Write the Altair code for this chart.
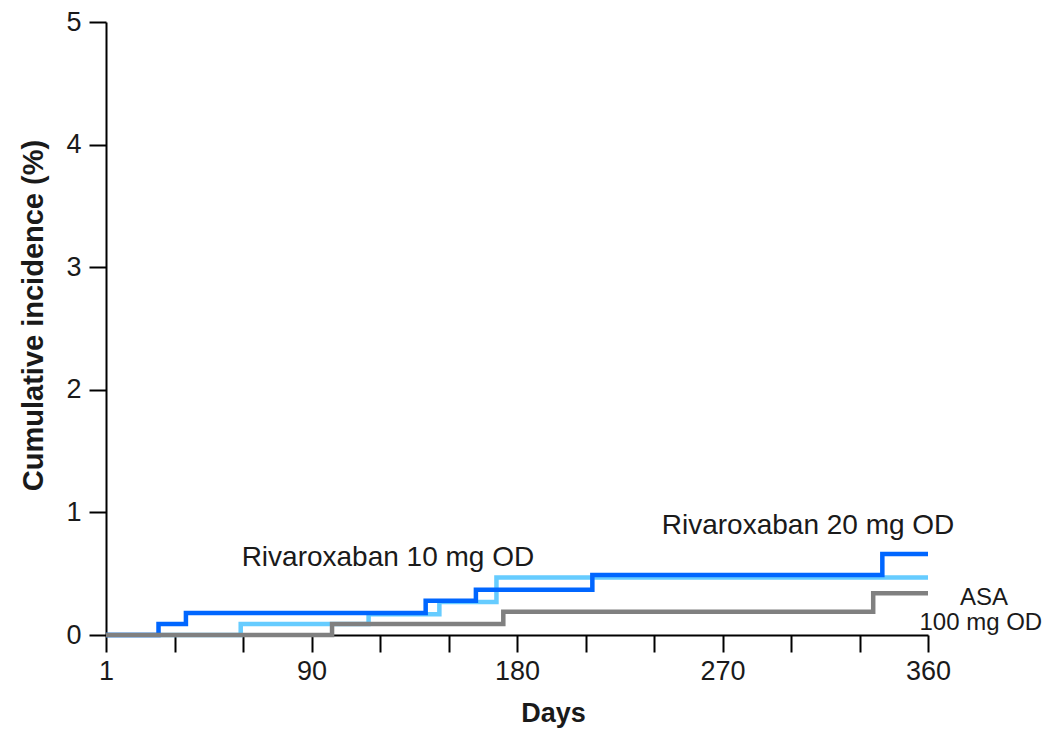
import altair as alt
import pandas as pd

# Step data (day, cumulative incidence %)
riva20_days = [0, 23, 35, 140, 162, 213, 340, 360]
riva20_vals = [0, 0.09, 0.18, 0.28, 0.37, 0.49, 0.66, 0.66]

riva10_days = [0, 59, 115, 146, 171, 360]
riva10_vals = [0, 0.09, 0.17, 0.27, 0.47, 0.47]

asa_days = [0, 99, 174, 336, 360]
asa_vals = [0, 0.09, 0.19, 0.34, 0.34]

series_names = ["Rivaroxaban 10 mg OD", "Rivaroxaban 20 mg OD", "ASA 100 mg OD"]
series_colors = ["#66CCFF", "#0066FF", "#808080"]

x_ticks = [0, 30, 60, 90, 120, 150, 180, 210, 240, 270, 300, 330, 360]
y_ticks = [0, 1, 2, 3, 4, 5]

# Annotation labels (text, day, value, alignment)
label_texts = ["Rivaroxaban 10 mg OD", "Rivaroxaban 20 mg OD", "ASA", "100 mg OD"]
label_days = [59.4, 243.4, 395, 410]
label_vals = [0.63, 0.89, 0.305, 0.097]
label_align = ["left", "left", "right", "right"]
label_sizes = [28, 28, 24, 24]

rows = []
for name, days, vals in [
    (series_names[0], riva10_days, riva10_vals),
    (series_names[1], riva20_days, riva20_vals),
    (series_names[2], asa_days, asa_vals),
]:
    for d, v in zip(days, vals):
        rows.append({"series": name, "day": d, "value": v})
df = pd.DataFrame(rows)

labels_df = pd.DataFrame({
    "text": label_texts, "day": label_days, "value": label_vals,
    "align": label_align, "size": label_sizes,
})

x_enc = alt.X(
    "day:Q",
    scale=alt.Scale(domain=[0, 360], nice=False),
    axis=alt.Axis(
        values=x_ticks,
        labelExpr="datum.value == 0 ? '1' : (datum.value % 90 == 0 ? datum.label : '')",
        title="Days",
        titleX=447,
        titleY=78,
        titleBaseline="middle",
        titleAlign="center",
        titleFontSize=27,
        labelFlush=False,
        labelPadding=6,
    ),
)
y_enc = alt.Y(
    "value:Q",
    scale=alt.Scale(domain=[0, 5], nice=False),
    axis=alt.Axis(
        values=y_ticks,
        format="d",
        title="Cumulative incidence (%)",
        titleX=-73,
        titleY=293,
        titleBaseline="middle",
        titleAlign="center",
        titleAngle=-90,
        titleFontSize=29,
        labelFlush=False,
        labelPadding=8,
    ),
)

base = alt.Chart(df)
layers = []
for name, color in zip(series_names, series_colors):
    layers.append(
        base.transform_filter(alt.datum.series == name)
        .mark_line(interpolate="step-after", color=color, strokeWidth=4.5, strokeCap="butt")
        .encode(x=x_enc, y=y_enc)
    )

texts = []
for i in range(len(label_texts)):
    texts.append(
        alt.Chart(labels_df.iloc[[i]])
        .mark_text(align=label_align[i], baseline="middle", fontSize=label_sizes[i],
                   font="Liberation Sans", color="#1a1a1a")
        .encode(x="day:Q", y="value:Q", text="text:N")
    )

chart = (
    alt.layer(*layers, *texts)
    .properties(
        width=822,
        height=613,
        autosize=alt.AutoSizeParams(type="none"),
        padding={"left": 98, "top": 14, "right": 120, "bottom": 95},
        background="white",
    )
    .configure_view(stroke=None)
    .configure_axis(
        grid=False,
        domainColor="black",
        domainWidth=2,
        tickColor="black",
        tickWidth=2,
        tickSize=17,
        labelFont="Liberation Sans",
        labelFontSize=27,
        labelColor="#1a1a1a",
        titleFont="Liberation Sans",
        titleFontWeight="bold",
        titleColor="#1a1a1a",
    )
)

chart.save("out.html", embed_options={"renderer": "svg", "actions": False})
